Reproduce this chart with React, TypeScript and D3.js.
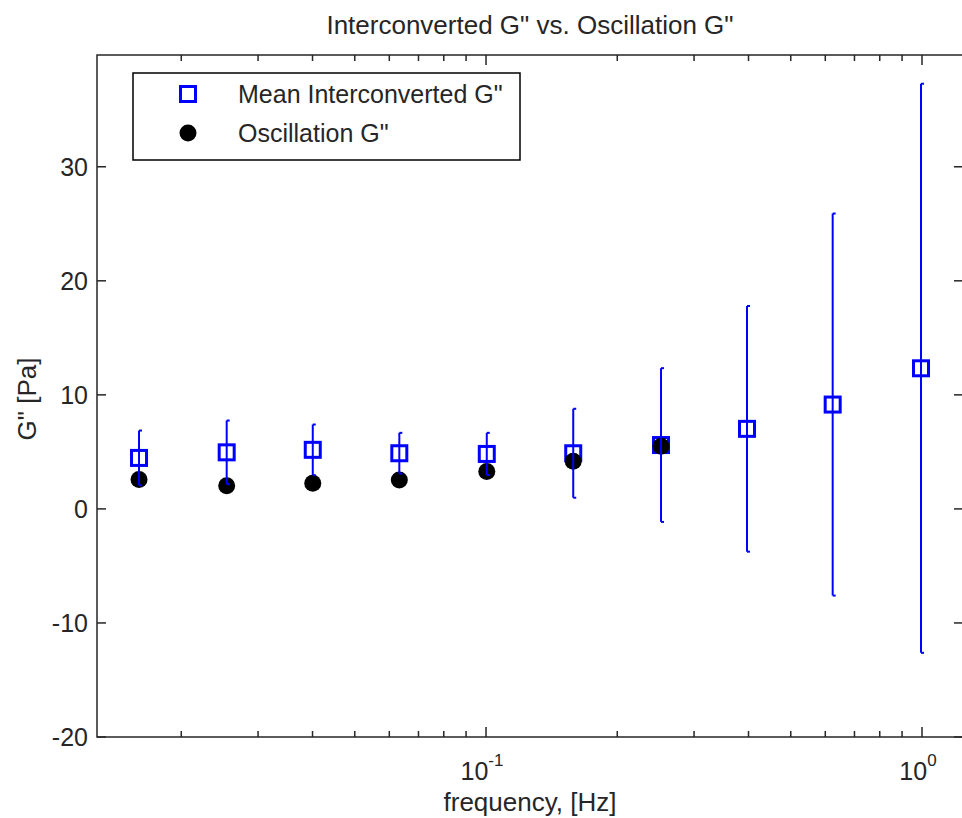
import React from 'react';
import * as d3 from 'd3';

// frequencies [Hz] of the measurement points
const freqs = [0.016, 0.02542, 0.04005, 0.06326, 0.1004, 0.1585, 0.252, 0.3968, 0.6239, 0.9947];
// mean interconverted G'' and its error bar half-width
const meanG = [4.47, 4.96, 5.18, 4.88, 4.82, 4.88, 5.6, 7.02, 9.15, 12.33];
const errG = [2.4, 2.79, 2.22, 1.79, 1.85, 3.9, 6.74, 10.77, 16.75, 24.95];
// oscillation G'' (only the first seven frequencies)
const oscG = [2.57, 2.04, 2.25, 2.54, 3.27, 4.18, 5.49];
const yTicks = [-20, -10, 0, 10, 20, 30];
const xMajor = [0.1, 1];

const W = 962;
const H = 818;
const left = 97, right = 963, top = 55, bottom = 737;
const axisColor = '#262626';
const font = '"Liberation Sans", Arial, Helvetica, sans-serif';
const blue = '#0000ff';

const App = () => {
  const x = d3.scaleLog().domain([0.012815, 1.2417]).range([left, right]);
  const y = d3.scaleLinear().domain([-20, 39.8]).range([bottom, top]);

  const minor = x.ticks().filter(t => !xMajor.some(m => Math.abs(m - t) < 1e-9));

  const square = (cx: number, cy: number, key: string | number) => (
    <rect key={key} x={cx - 7.5} y={cy - 7.5} width={15} height={15}
      fill="none" stroke={blue} strokeWidth={3} />
  );

  return (
    <svg width={W} height={H} style={{ position: 'absolute', left: 0, top: 0, background: '#fff' }}
      fontFamily={font}>
      <rect x={0} y={0} width={W} height={H} fill="#fff" />

      {/* title */}
      <text x={(left + right) / 2} y={34} textAnchor="middle" fontSize={26} fill={axisColor}>
        Interconverted G" vs. Oscillation G"
      </text>

      {/* markers: squares, then dots, then error bars on top */}
      {freqs.map((f, i) => square(x(f), y(meanG[i]), 'sq' + i))}
      {oscG.map((v, i) => (
        <circle key={'dot' + i} cx={x(freqs[i])} cy={y(v)} r={8.5} fill="#000" />
      ))}
      {freqs.map((f, i) => {
        const cx = x(f);
        const y1 = y(meanG[i] + errG[i]);
        const y2 = y(meanG[i] - errG[i]);
        return (
          <g key={'eb' + i} stroke={blue} strokeWidth={2}>
            <line x1={cx} x2={cx} y1={y1} y2={y2} />
            <line x1={cx} x2={cx + 3} y1={y1} y2={y1} />
            <line x1={cx} x2={cx + 3} y1={y2} y2={y2} />
          </g>
        );
      })}

      {/* axes box */}
      <g stroke={axisColor} strokeWidth={1.5} fill="none">
        <rect x={left} y={top} width={right - left} height={bottom - top} />
        {minor.map(t => (
          <g key={'mi' + t}>
            <line x1={x(t)} x2={x(t)} y1={bottom} y2={bottom - 6} />
            <line x1={x(t)} x2={x(t)} y1={top} y2={top + 6} />
          </g>
        ))}
        {xMajor.map(t => (
          <g key={'ma' + t}>
            <line x1={x(t)} x2={x(t)} y1={bottom} y2={bottom - 10} />
            <line x1={x(t)} x2={x(t)} y1={top} y2={top + 10} />
          </g>
        ))}
        {yTicks.map(t => (
          <g key={'yt' + t}>
            <line x1={left} x2={left + 9} y1={y(t)} y2={y(t)} />
            <line x1={right} x2={right - 9} y1={y(t)} y2={y(t)} />
          </g>
        ))}
      </g>

      {/* tick labels */}
      {yTicks.map(t => (
        <text key={'yl' + t} x={88} y={y(t) + 9} textAnchor="end" fontSize={25} fill={axisColor}>
          {t}
        </text>
      ))}
      {xMajor.map(t => {
        const exp = Math.round(Math.log10(t));
        return (
          <text key={'xl' + t} x={x(t) - 4} y={780} textAnchor="middle" fontSize={25} fill={axisColor}>
            10<tspan fontSize={17} dy={-14}>{exp}</tspan>
          </text>
        );
      })}

      {/* axis titles */}
      <text x={(left + right) / 2} y={811} textAnchor="middle" fontSize={26} fill={axisColor}>
        frequency, [Hz]
      </text>
      <text transform={`translate(36, 399) rotate(-90)`} textAnchor="middle" fontSize={26} fill={axisColor}>
        G" [Pa]
      </text>

      {/* legend */}
      <rect x={133} y={73} width={387} height={87} fill="#fff" stroke="#000" strokeWidth={1.5} />
      {square(188, 94, 'legsq')}
      <circle cx={188} cy={133} r={8.5} fill="#000" />
      <text x={238} y={103} fontSize={25} fill={axisColor}>Mean Interconverted G"</text>
      <text x={238} y={142} fontSize={25} fill={axisColor}>Oscillation G"</text>
    </svg>
  );
};

export default App;
